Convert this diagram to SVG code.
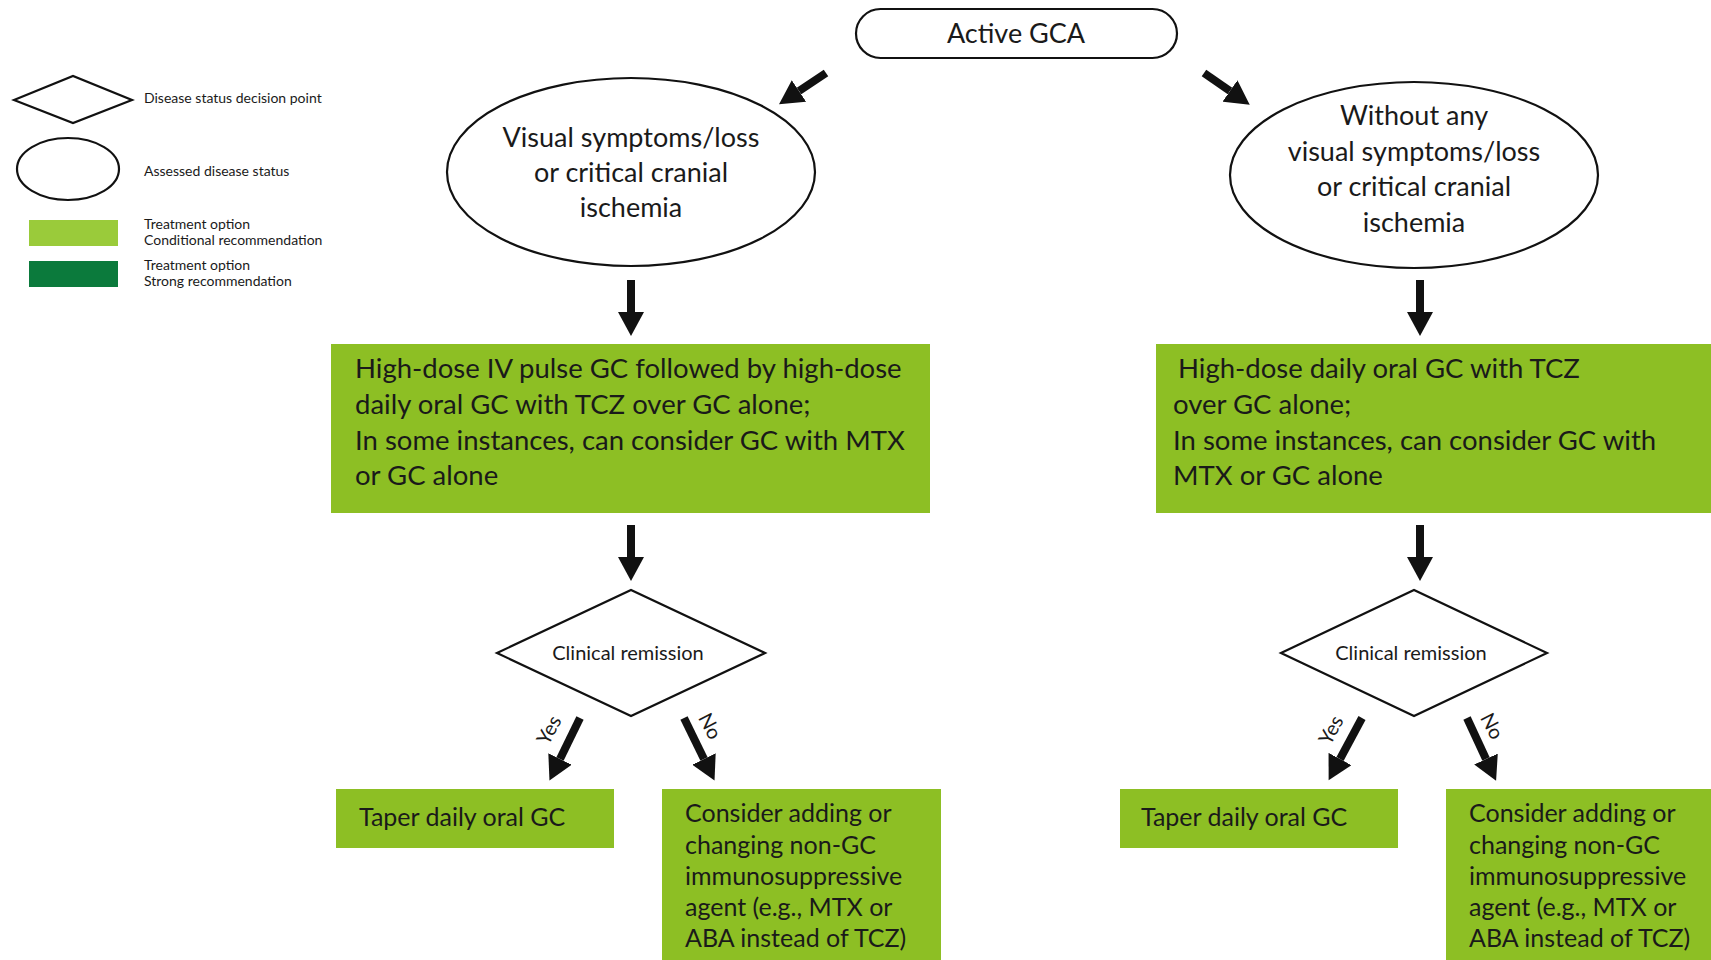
<svg xmlns="http://www.w3.org/2000/svg" width="1711" height="960" viewBox="0 0 1711 960">
<style>
text{font-family:"Lato","Liberation Sans",sans-serif;fill:#1a1a1a}
.shape{fill:#fff;stroke:#111;stroke-width:2.2}
.green{fill:#8dbf24}
.big{font-size:27px}
.box{font-size:27.5px}
.sm{font-size:25px}
.lg{font-size:14px}
.dm{font-size:20px}
.yn{font-size:20px}
.arr{stroke:#111;stroke-width:8;fill:none}
</style>
<defs>
<marker id="ah" markerUnits="userSpaceOnUse" markerWidth="26" markerHeight="26" refX="0" refY="13" orient="auto">
<path d="M0,0 L24,13 L0,26 z" fill="#111"/>
</marker>
</defs>
<rect width="1711" height="960" fill="#fff"/>

<g id="legend">
<polygon class="shape" points="14,100 73,76 132,100 73,123" stroke-width="1.5"/>
<text class="lg" x="144" y="103">Disease status decision point</text>
<ellipse class="shape" cx="68" cy="169" rx="51" ry="31" stroke-width="1.8"/>
<text class="lg" x="144" y="176">Assessed disease status</text>
<rect x="29" y="220" width="89" height="26" fill="#9acb3a"/>
<text class="lg" x="144" y="229">Treatment option</text>
<text class="lg" x="144" y="245">Conditional recommendation</text>
<rect x="29" y="261" width="89" height="26" fill="#0b7a3c"/>
<text class="lg" x="144" y="270">Treatment option</text>
<text class="lg" x="144" y="286">Strong recommendation</text>
</g>

<g id="active-gca">
<rect class="shape" x="856" y="9" width="321" height="49" rx="24.5"/>
<text class="big" x="1016" y="43" text-anchor="middle">Active GCA</text>
</g>

<g id="visual">
<ellipse class="shape" cx="631" cy="172" rx="184" ry="94"/>
<text class="big" text-anchor="middle"><tspan x="631" y="147">Visual symptoms/loss</tspan><tspan x="631" y="182">or critical cranial</tspan><tspan x="631" y="217">ischemia</tspan></text>
</g>

<g id="no-visual">
<ellipse class="shape" cx="1414" cy="175" rx="184" ry="93"/>
<text class="big" text-anchor="middle"><tspan x="1414" y="125">Without any</tspan><tspan x="1414" y="161">visual symptoms/loss</tspan><tspan x="1414" y="196">or critical cranial</tspan><tspan x="1414" y="232">ischemia</tspan></text>
</g>

<g id="treat-left">
<rect class="green" x="331" y="344" width="599" height="169"/>
<text class="box"><tspan x="355" y="378">High-dose IV pulse GC followed by high-dose</tspan><tspan x="355" y="414">daily oral GC with TCZ over GC alone;</tspan><tspan x="355" y="450">In some instances, can consider GC with MTX</tspan><tspan x="355" y="485">or GC alone</tspan></text>
</g>

<g id="treat-right">
<rect class="green" x="1156" y="344" width="555" height="169"/>
<text class="box"><tspan x="1178" y="378">High-dose daily oral GC with TCZ</tspan><tspan x="1173" y="414">over GC alone;</tspan><tspan x="1173" y="450">In some instances, can consider GC with</tspan><tspan x="1173" y="485">MTX or GC alone</tspan></text>
</g>

<g id="remission-left">
<polygon class="shape" points="497,653 631,590 765,653 631,716"/>
<text class="dm" x="628" y="660" text-anchor="middle">Clinical remission</text>
</g>

<g id="remission-right">
<polygon class="shape" points="1281,653 1414,590 1547,653 1414,716"/>
<text class="dm" x="1411" y="660" text-anchor="middle">Clinical remission</text>
</g>

<g id="taper-left">
<rect class="green" x="336" y="789" width="278" height="59"/>
<text class="sm" x="359" y="826">Taper daily oral GC</text>
</g>

<g id="taper-right">
<rect class="green" x="1120" y="789" width="278" height="59"/>
<text class="sm" x="1141" y="826">Taper daily oral GC</text>
</g>

<g id="consider-left">
<rect class="green" x="662" y="789" width="279" height="171"/>
<text class="sm"><tspan x="685" y="822">Consider adding or</tspan><tspan x="685" y="854">changing non-GC</tspan><tspan x="685" y="885">immunosuppressive</tspan><tspan x="685" y="916">agent (e.g., MTX or</tspan><tspan x="685" y="947">ABA instead of TCZ)</tspan></text>
</g>

<g id="consider-right">
<rect class="green" x="1446" y="789" width="265" height="171"/>
<text class="sm"><tspan x="1469" y="822">Consider adding or</tspan><tspan x="1469" y="854">changing non-GC</tspan><tspan x="1469" y="885">immunosuppressive</tspan><tspan x="1469" y="916">agent (e.g., MTX or</tspan><tspan x="1469" y="947">ABA instead of TCZ)</tspan></text>
</g>

<g id="connectors">
<line class="arr" x1="826" y1="73" x2="799" y2="91" marker-end="url(#ah)"/>
<line class="arr" x1="1204" y1="73" x2="1230" y2="91" marker-end="url(#ah)"/>
<line class="arr" x1="631" y1="280" x2="631" y2="312" marker-end="url(#ah)"/>
<line class="arr" x1="1420" y1="280" x2="1420" y2="312" marker-end="url(#ah)"/>
<line class="arr" x1="631" y1="525" x2="631" y2="557" marker-end="url(#ah)"/>
<line class="arr" x1="1420" y1="525" x2="1420" y2="557" marker-end="url(#ah)"/>
<line class="arr" x1="580" y1="718" x2="560" y2="759" marker-end="url(#ah)"/>
<line class="arr" x1="684" y1="718" x2="704" y2="759" marker-end="url(#ah)"/>
<line class="arr" x1="1362" y1="718" x2="1340" y2="759" marker-end="url(#ah)"/>
<line class="arr" x1="1467" y1="718" x2="1486" y2="759" marker-end="url(#ah)"/>
<text class="yn" transform="translate(549,730) rotate(-62)" text-anchor="middle" dy="7">Yes</text>
<text class="yn" transform="translate(710,726) rotate(62)" text-anchor="middle" dy="7">No</text>
<text class="yn" transform="translate(1331,730) rotate(-62)" text-anchor="middle" dy="7">Yes</text>
<text class="yn" transform="translate(1492,726) rotate(62)" text-anchor="middle" dy="7">No</text>
</g>
</svg>
